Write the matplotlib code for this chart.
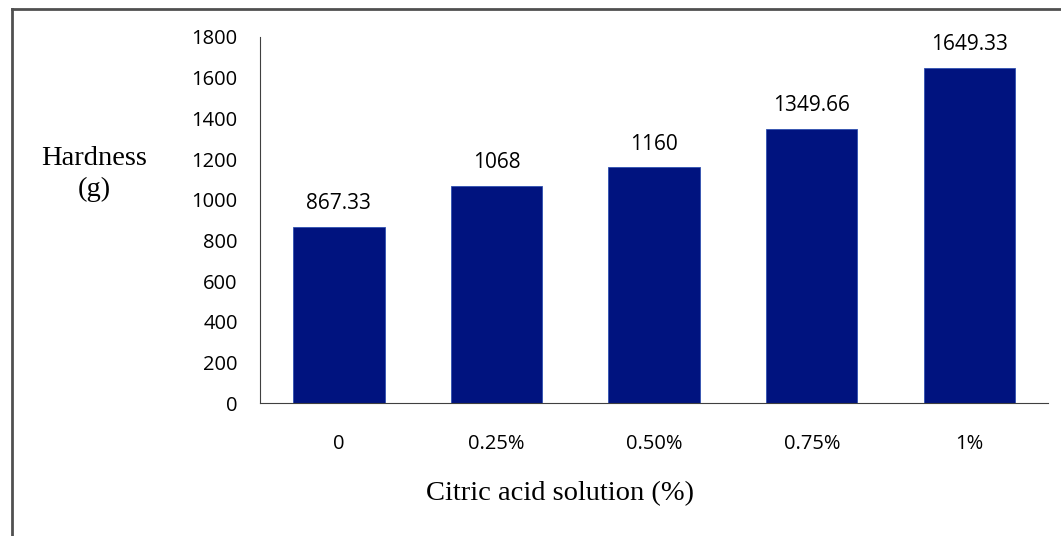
import matplotlib.pyplot as plt
from matplotlib.lines import Line2D

# citric acid concentration vs. hardness
categories = ['0', '0.25%', '0.50%', '0.75%', '1%']
hardness = [867.33, 1068, 1160, 1349.66, 1649.33]
value_labels = ['867.33', '1068', '1160', '1349.66', '1649.33']
yticks = [0, 200, 400, 600, 800, 1000, 1200, 1400, 1600, 1800]

fig = plt.figure(figsize=(10.61, 5.36), dpi=100)
ax = fig.add_axes([0.245, 0.248, 0.743, 0.683])

x = range(len(categories))
ax.bar(x, hardness, width=0.58, color='#00137f', edgecolor='#3050b0', linewidth=0.6, zorder=2)

for xi, v, lab in zip(x, hardness, value_labels):
    ax.annotate(lab, (xi, v), xytext=(0, 9), textcoords='offset points',
                ha='center', va='bottom', fontsize=15, family='Open Sans')

ax.set_xlim(-0.5, 4.5)
ax.set_ylim(0, 1800)
ax.set_yticks(yticks)
ax.set_xticks(list(x))
ax.set_xticklabels(categories)
ax.tick_params(length=0, labelsize=14.5)
ax.tick_params(axis='y', pad=16)
ax.tick_params(axis='x', pad=22)
for lab in ax.get_xticklabels() + ax.get_yticklabels():
    lab.set_family('Open Sans')

for side in ['top', 'right']:
    ax.spines[side].set_visible(False)
ax.spines['left'].set_color('#404040')
ax.spines['bottom'].set_color('#404040')

fig.text(0.528, 0.080, 'Citric acid solution (%)', family='Liberation Serif', fontsize=20.5,
         ha='center', va='center')
fig.text(0.0885, 0.676, 'Hardness\n(g)', family='Liberation Serif', fontsize=20.5,
         ha='center', va='center', linespacing=1.3)

# frame lines along the top and left edges
fig.add_artist(Line2D([0.0115, 0.0115], [0.0, 0.984], transform=fig.transFigure, color='#505050', lw=2))
fig.add_artist(Line2D([0.0115, 1.0], [0.984, 0.984], transform=fig.transFigure, color='#505050', lw=2))

fig.savefig('out.png', dpi=100)
